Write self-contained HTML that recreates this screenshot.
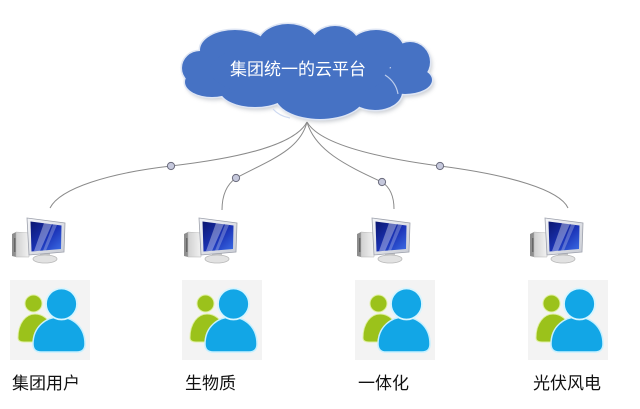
<!DOCTYPE html>
<html>
<head>
<meta charset="utf-8">
<style>
html,body{margin:0;padding:0;background:#fff;}
body{width:640px;height:409px;position:relative;overflow:hidden;}
svg{position:absolute;left:0;top:0;}
.lbl{position:absolute;top:374px;font-family:"Liberation Sans","Noto Sans CJK SC",sans-serif;font-size:17px;line-height:20px;color:#111;white-space:nowrap;}
.ct{position:absolute;left:200px;width:196px;top:59px;text-align:center;font-family:"Liberation Sans","Noto Sans CJK SC",sans-serif;font-size:17px;line-height:22px;color:#fff;white-space:nowrap;}
</style>
</head>
<body>
<svg width="640" height="409" viewBox="0 0 640 409" xmlns="http://www.w3.org/2000/svg">
<defs>
  <linearGradient id="scr" x1="0" y1="0" x2="1" y2="1">
    <stop offset="0" stop-color="#0b1670"/>
    <stop offset="0.55" stop-color="#1b34b8"/>
    <stop offset="1" stop-color="#3d6ee6"/>
  </linearGradient>
  <linearGradient id="frm" x1="0" y1="0" x2="1" y2="1">
    <stop offset="0" stop-color="#f4f5f8"/>
    <stop offset="1" stop-color="#c9ccd4"/>
  </linearGradient>
  <linearGradient id="tow" x1="0" y1="0" x2="1" y2="0">
    <stop offset="0" stop-color="#d0d0d0"/>
    <stop offset="1" stop-color="#f2f2f2"/>
  </linearGradient>
  <filter id="blur" x="-10%" y="-10%" width="120%" height="130%"><feGaussianBlur stdDeviation="2"/></filter>

  <g id="mon">
    <polygon points="12,234 16,232 16,257 12,256" fill="#8e8e8e"/>
    <polygon points="16,232 29,233 29,257 16,257" fill="url(#tow)" stroke="#b5b5b5" stroke-width="0.5"/>
    <rect x="14" y="238" width="1.5" height="14" fill="#666"/>
    <rect x="40" y="250" width="10" height="7" fill="#c8c8c8"/>
    <ellipse cx="45" cy="259" rx="12" ry="4" fill="#e2e2e2" stroke="#b8b8b8" stroke-width="0.8"/>
    <polygon points="27,218 65,223 64,252 29,255" fill="url(#frm)" stroke="#9da1ac" stroke-width="0.8"/>
    <polygon points="30.5,221.5 61.5,225.5 61,249 31.5,251.5" fill="url(#scr)"/>
    <polygon points="44,223 52,224 40,251 34,251" fill="#ffffff" opacity="0.35"/>
    <polygon points="53,224.5 57,225 46,250.5 43,250.7" fill="#ffffff" opacity="0.25"/>
  </g>

  <g id="ppl">
    <rect x="0" y="0" width="80" height="80" fill="#f3f3f3"/>
    <path d="M8,58 C8,43 16,34 25,34 C33,34 40,40 42,48 L42,62 L14,62 Q8,62 8,58 Z" fill="#9bc21b" stroke="#dff0a0" stroke-width="1"/>
    <circle cx="23.5" cy="23.5" r="8.5" fill="#9bc21b" stroke="#dff0a0" stroke-width="1"/>
    <path d="M23,64 C23,46 37,37 49,37 C62,37 75,46 75,64 Q75,72 67,72 L31,72 Q23,72 23,64 Z" fill="#12a6e6" stroke="#c6f0ff" stroke-width="1.5"/>
    <circle cx="51.5" cy="24" r="15.5" fill="#12a6e6" stroke="#d6f5ff" stroke-width="1.8"/>
  </g>
</defs>

<!-- cloud shadow -->
<g fill="#9aa0aa" opacity="0.55" filter="url(#blur)" transform="translate(2,3)">
  <ellipse cx="235" cy="50" rx="35" ry="20"/>
  <ellipse cx="288" cy="45" rx="30" ry="21"/>
  <ellipse cx="335" cy="45" rx="24" ry="19"/>
  <ellipse cx="376" cy="50" rx="28" ry="20"/>
  <ellipse cx="410" cy="62" rx="20" ry="20"/>
  <ellipse cx="405" cy="80" rx="27" ry="14"/>
  <ellipse cx="375" cy="92" rx="27" ry="18"/>
  <ellipse cx="320" cy="95" rx="45" ry="24"/>
  <ellipse cx="255" cy="90" rx="35" ry="17"/>
  <ellipse cx="212" cy="82" rx="27" ry="15"/>
  <ellipse cx="200" cy="68" rx="18" ry="17"/>
  <ellipse cx="300" cy="70" rx="90" ry="30"/>
</g>
<!-- cloud outline -->
<g fill="#e9eef8" stroke="#dfe6f4" stroke-width="3">
  <ellipse cx="235" cy="50" rx="35" ry="20"/>
  <ellipse cx="288" cy="45" rx="30" ry="21"/>
  <ellipse cx="335" cy="45" rx="24" ry="19"/>
  <ellipse cx="376" cy="50" rx="28" ry="20"/>
  <ellipse cx="410" cy="62" rx="20" ry="20"/>
  <ellipse cx="405" cy="80" rx="27" ry="14"/>
  <ellipse cx="375" cy="92" rx="27" ry="18"/>
  <ellipse cx="320" cy="95" rx="45" ry="24"/>
  <ellipse cx="255" cy="90" rx="35" ry="17"/>
  <ellipse cx="212" cy="82" rx="27" ry="15"/>
  <ellipse cx="200" cy="68" rx="18" ry="17"/>
</g>
<!-- cloud fill -->
<g fill="#4672c4">
  <ellipse cx="235" cy="50" rx="35" ry="20"/>
  <ellipse cx="288" cy="45" rx="30" ry="21"/>
  <ellipse cx="335" cy="45" rx="24" ry="19"/>
  <ellipse cx="376" cy="50" rx="28" ry="20"/>
  <ellipse cx="410" cy="62" rx="20" ry="20"/>
  <ellipse cx="405" cy="80" rx="27" ry="14"/>
  <ellipse cx="375" cy="92" rx="27" ry="18"/>
  <ellipse cx="320" cy="95" rx="45" ry="24"/>
  <ellipse cx="255" cy="90" rx="35" ry="17"/>
  <ellipse cx="212" cy="82" rx="27" ry="15"/>
  <ellipse cx="200" cy="68" rx="18" ry="17"/>
  <ellipse cx="300" cy="70" rx="90" ry="30"/>
</g>
<!-- inner cloud arcs -->
<g fill="none" stroke="#c9d6f0" stroke-width="1.2" opacity="0.9">
  <path d="M273,109 Q279,116 290,118"/>
  <path d="M385,75 Q396,82 398,94"/>
</g>

<!-- connectors -->
<g fill="none" stroke="#8a8a8a" stroke-width="1">
  <path d="M307,122 C295,145 240,158 171,166 C110,173 60,188 50,208"/>
  <path d="M307,122 C300,150 270,160 236,178 C226,185 222,196 222,210"/>
  <path d="M307,122 C315,150 345,165 382,182 C391,188 394,198 394,209"/>
  <path d="M307,122 C320,145 380,158 440,166 C510,175 560,190 568,208"/>
</g>
<g fill="#c5c8dc" stroke="#6a6b7c" stroke-width="1">
  <circle cx="171" cy="166" r="3.6"/>
  <circle cx="236" cy="178" r="3.6"/>
  <circle cx="382" cy="182" r="3.6"/>
  <circle cx="440" cy="166" r="3.6"/>
</g>

<!-- monitors -->
<use href="#mon" transform="translate(0,0)"/>
<use href="#mon" transform="translate(172,0)"/>
<use href="#mon" transform="translate(345,0)"/>
<use href="#mon" transform="translate(518,0)"/>

<!-- people -->
<use href="#ppl" transform="translate(10,280)"/>
<use href="#ppl" transform="translate(182,280)"/>
<use href="#ppl" transform="translate(355,280)"/>
<use href="#ppl" transform="translate(528,280)"/>
</svg>

<div class="ct">集团统一的云平台</div>
<div class="lbl" style="left:12px;">集团用户</div>
<div class="lbl" style="left:185px;">生物质</div>
<div class="lbl" style="left:358px;">一体化</div>
<div class="lbl" style="left:533px;">光伏风电</div>
</body>
</html>
